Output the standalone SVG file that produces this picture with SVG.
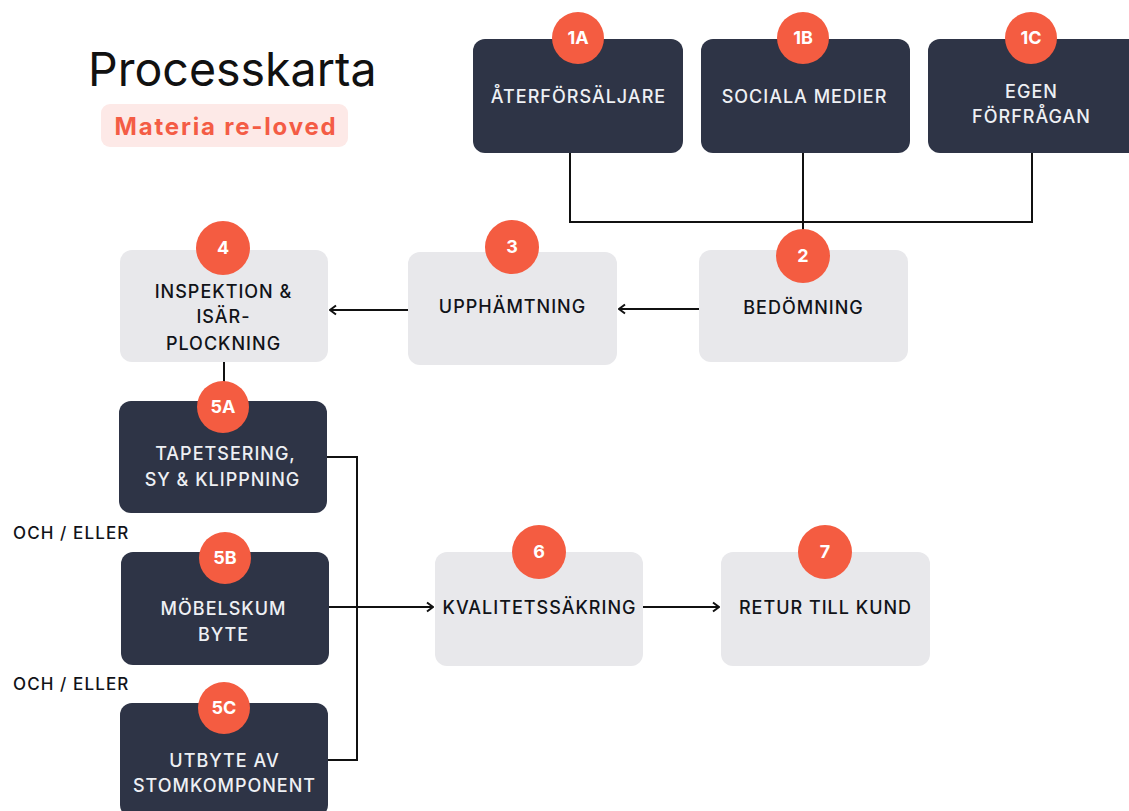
<svg xmlns="http://www.w3.org/2000/svg" width="1129" height="811" viewBox="0 0 1129 811">
<defs>
<style>
.dark{fill:#2e3446}
.light{fill:#e8e8eb}
.badge{fill:#f45c41}
.bt{font-family:Inter,"Noto Sans",sans-serif;font-weight:700;font-size:18px;fill:#ffffff;text-anchor:middle}
.tw{font-family:Inter,"Noto Sans",sans-serif;font-weight:500;font-size:18px;letter-spacing:1px;fill:#eef0f4;text-anchor:middle}
.tb{font-family:Inter,"Noto Sans",sans-serif;font-weight:500;font-size:18px;letter-spacing:1px;fill:#111318;text-anchor:middle}
.lbl{font-family:Inter,"Noto Sans",sans-serif;font-weight:500;font-size:17px;letter-spacing:1.1px;fill:#111318}
.ln{fill:none;stroke:#111;stroke-width:2}
</style>
<marker id="arr" viewBox="0 0 12 12" refX="11" refY="6" markerWidth="12" markerHeight="12" markerUnits="userSpaceOnUse" orient="auto">
<path d="M5,1.5 L11,6 L5,10.5" fill="none" stroke="#111" stroke-width="2"/>
</marker>
</defs>
<rect width="1129" height="811" fill="#ffffff"/>

<g id="title">
<text x="88" y="86" font-family="Inter,'Noto Sans',sans-serif" font-size="46.5" fill="#111">Processkarta</text>
<rect x="101" y="104" width="247" height="43" rx="9" fill="#fde9e7"/>
<text x="226" y="135" font-family="Inter,'Noto Sans',sans-serif" font-weight="700" font-size="24" letter-spacing="1.8" fill="#f45c45" text-anchor="middle">Materia re-loved</text>
</g>

<g id="connectors">
<polyline class="ln" points="570,153 570,222 1032,222 1032,153"/>
<line class="ln" x1="803" y1="153" x2="803" y2="240"/>
<line class="ln" x1="699" y1="309" x2="619" y2="309" marker-end="url(#arr)"/>
<line class="ln" x1="408" y1="310" x2="330" y2="310" marker-end="url(#arr)"/>
<line class="ln" x1="224" y1="362" x2="224" y2="385"/>
<polyline class="ln" points="327,457 357,457 357,760 328,760"/>
<line class="ln" x1="329" y1="607" x2="433" y2="607" marker-end="url(#arr)"/>
<line class="ln" x1="643" y1="607" x2="719" y2="607" marker-end="url(#arr)"/>
</g>

<g id="node-1A">
<rect class="dark" x="473" y="39" width="210" height="114" rx="12"/>
<circle class="badge" cx="578" cy="38" r="26"/>
<text class="bt" x="578" y="44">1A</text>
<text class="tw" x="578.5" y="103">ÅTERFÖRSÄLJARE</text>
</g>
<g id="node-1B">
<rect class="dark" x="701" y="39" width="209" height="114" rx="12"/>
<circle class="badge" cx="803" cy="38" r="26"/>
<text class="bt" x="803" y="44">1B</text>
<text class="tw" x="804.5" y="103">SOCIALA MEDIER</text>
</g>
<g id="node-1C">
<rect class="dark" x="928" y="39" width="212" height="114" rx="12"/>
<circle class="badge" cx="1031" cy="38" r="26"/>
<text class="bt" x="1031" y="44">1C</text>
<text class="tw" x="1031.5" y="98">EGEN</text>
<text class="tw" x="1031.5" y="123">FÖRFRÅGAN</text>
</g>

<g id="node-2">
<rect class="light" x="699" y="250" width="209" height="112" rx="12"/>
<circle class="badge" cx="803" cy="256" r="27"/>
<text class="bt" x="803" y="262">2</text>
<text class="tb" x="803.5" y="314">BEDÖMNING</text>
</g>
<g id="node-3">
<rect class="light" x="408" y="252" width="209" height="113" rx="12"/>
<circle class="badge" cx="512" cy="247" r="27"/>
<text class="bt" x="512" y="253">3</text>
<text class="tb" x="512.5" y="313">UPPHÄMTNING</text>
</g>
<g id="node-4">
<rect class="light" x="120" y="250" width="208" height="112" rx="12"/>
<circle class="badge" cx="223" cy="248" r="27"/>
<text class="bt" x="223" y="254">4</text>
<text class="tb" x="223.5" y="298">INSPEKTION &amp;</text>
<text class="tb" x="223.5" y="323">ISÄR-</text>
<text class="tb" x="223.5" y="350">PLOCKNING</text>
</g>

<g id="node-5A">
<rect class="dark" x="119" y="401" width="208" height="112" rx="12"/>
<circle class="badge" cx="223" cy="407" r="26"/>
<text class="bt" x="223" y="413">5A</text>
<text class="tw" x="225.5" y="460">TAPETSERING,</text>
<text class="tw" x="222.5" y="486">SY &amp; KLIPPNING</text>
</g>
<text class="lbl" x="13" y="539">OCH / ELLER</text>
<g id="node-5B">
<rect class="dark" x="121" y="552" width="208" height="113" rx="12"/>
<circle class="badge" cx="225" cy="558" r="26"/>
<text class="bt" x="225" y="564">5B</text>
<text class="tw" x="223.5" y="615">MÖBELSKUM</text>
<text class="tw" x="223.5" y="641">BYTE</text>
</g>
<text class="lbl" x="13" y="690">OCH / ELLER</text>
<g id="node-5C">
<rect class="dark" x="120" y="703" width="208" height="114" rx="12"/>
<circle class="badge" cx="224" cy="708" r="26"/>
<text class="bt" x="224" y="714">5C</text>
<text class="tw" x="224.5" y="767">UTBYTE AV</text>
<text class="tw" x="224.5" y="792">STOMKOMPONENT</text>
</g>

<g id="node-6">
<rect class="light" x="435" y="552" width="208" height="114" rx="12"/>
<circle class="badge" cx="539" cy="552" r="27"/>
<text class="bt" x="539" y="558">6</text>
<text class="tb" x="539.5" y="614">KVALITETSSÄKRING</text>
</g>
<g id="node-7">
<rect class="light" x="721" y="552" width="209" height="114" rx="12"/>
<circle class="badge" cx="825" cy="552" r="27"/>
<text class="bt" x="825" y="558">7</text>
<text class="tb" x="825.5" y="614">RETUR TILL KUND</text>
</g>
</svg>
